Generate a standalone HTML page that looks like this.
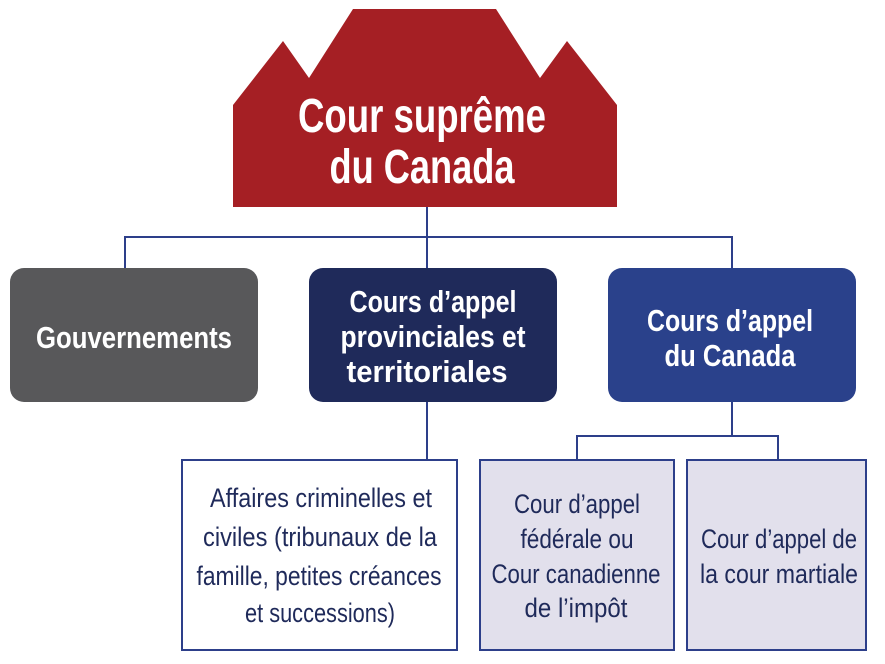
<!DOCTYPE html>
<html><head><meta charset="utf-8"><style>
html,body{margin:0;padding:0;background:#fff;}
svg{display:block;}
text{font-family:"Liberation Sans Narrow","Liberation Sans",sans-serif;text-anchor:middle;}
.w{fill:#fff;font-weight:bold;}
.d{fill:#1f2a5a;}
</style></head><body>
<svg width="885" height="664" viewBox="0 0 885 664" xmlns="http://www.w3.org/2000/svg">
<polygon points="233,105 283,41 309,78 353,9 496,9 540,78 567,41 617,105 617,207 233,207" fill="#a51f24"/>
<g stroke="#2d3f8a" stroke-width="2" fill="none">
<line x1="427" y1="207" x2="427" y2="268"/>
<polyline points="125,268 125,237 732,237 732,268"/>
<line x1="427" y1="402" x2="427" y2="460"/>
<line x1="732" y1="402" x2="732" y2="436"/>
<polyline points="577,460 577,436 778,436 778,460"/>
</g>
<rect x="10" y="268" width="248" height="134" rx="14" fill="#58585a"/>
<rect x="309" y="268" width="248" height="134" rx="14" fill="#1f2a5a"/>
<rect x="608" y="268" width="248" height="134" rx="14" fill="#2a418b"/>
<rect x="182" y="460" width="275" height="190" fill="#fff" stroke="#2d3f8a" stroke-width="2"/>
<rect x="480" y="460" width="194" height="190" fill="#e2e0ec" stroke="#2d3f8a" stroke-width="2"/>
<rect x="687" y="460" width="179" height="190" fill="#e2e0ec" stroke="#2d3f8a" stroke-width="2"/>

<text class="w" x="422" y="132" font-size="48" textLength="248" lengthAdjust="spacingAndGlyphs">Cour suprême</text>
<text class="w" x="422" y="183" font-size="48" textLength="185" lengthAdjust="spacingAndGlyphs">du Canada</text>

<text class="w" x="134" y="348" font-size="31" textLength="196" lengthAdjust="spacingAndGlyphs">Gouvernements</text>
<text class="w" x="433" y="312" font-size="31" textLength="167" lengthAdjust="spacingAndGlyphs">Cours d’appel</text>
<text class="w" x="433" y="347" font-size="31" textLength="185" lengthAdjust="spacingAndGlyphs">provinciales et</text>
<text class="w" x="427" y="382" font-size="31" textLength="161" lengthAdjust="spacingAndGlyphs">territoriales</text>
<text class="w" x="730" y="331" font-size="31" textLength="166" lengthAdjust="spacingAndGlyphs">Cours d’appel</text>
<text class="w" x="730" y="366" font-size="31" textLength="131" lengthAdjust="spacingAndGlyphs">du Canada</text>

<text class="d" x="321" y="507" font-size="27" textLength="222" lengthAdjust="spacingAndGlyphs">Affaires criminelles et</text>
<text class="d" x="320" y="546" font-size="27" textLength="234" lengthAdjust="spacingAndGlyphs">civiles (tribunaux de la</text>
<text class="d" x="319" y="585" font-size="27" textLength="245" lengthAdjust="spacingAndGlyphs">famille, petites créances</text>
<text class="d" x="320" y="622" font-size="27" textLength="150" lengthAdjust="spacingAndGlyphs">et successions)</text>

<text class="d" x="577" y="513" font-size="27" textLength="126" lengthAdjust="spacingAndGlyphs">Cour d’appel</text>
<text class="d" x="577" y="548" font-size="27" textLength="113" lengthAdjust="spacingAndGlyphs">fédérale ou</text>
<text class="d" x="576" y="583" font-size="27" textLength="169" lengthAdjust="spacingAndGlyphs">Cour canadienne</text>
<text class="d" x="576" y="617" font-size="27" textLength="103" lengthAdjust="spacingAndGlyphs">de l’impôt</text>

<text class="d" x="779" y="548" font-size="27" textLength="156" lengthAdjust="spacingAndGlyphs">Cour d’appel de</text>
<text class="d" x="779" y="583" font-size="27" textLength="158" lengthAdjust="spacingAndGlyphs">la cour martiale</text>
</svg>
</body></html>
